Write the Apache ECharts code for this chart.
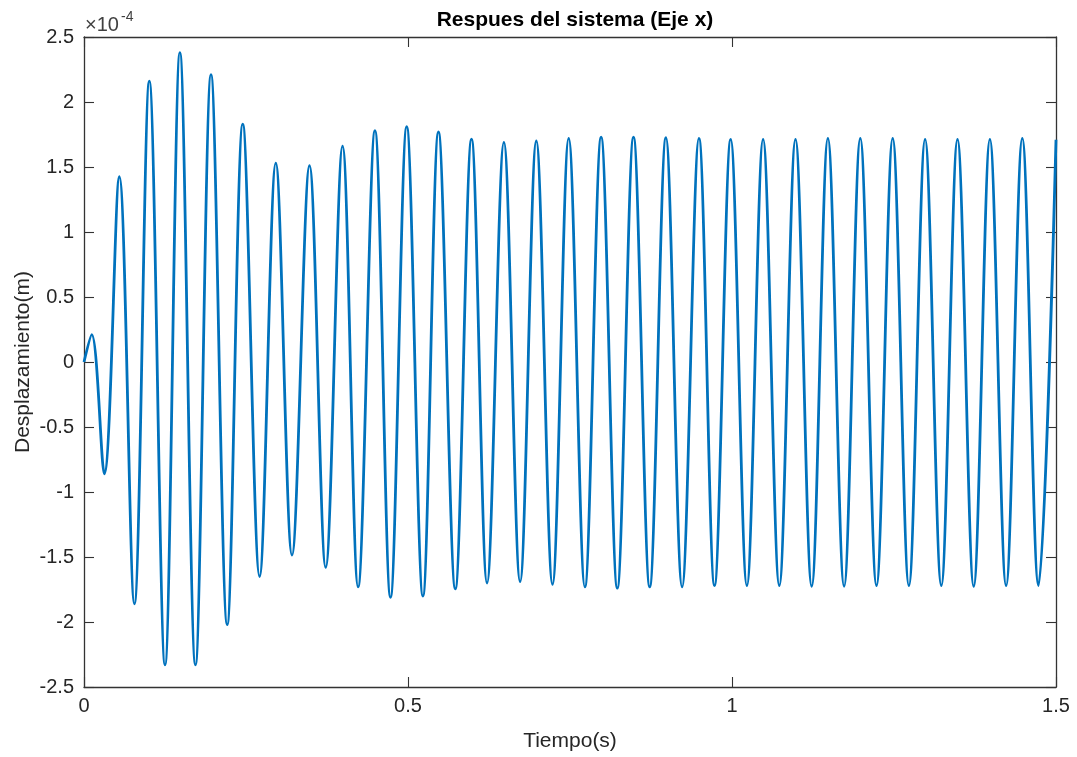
<!DOCTYPE html>
<html>
<head>
<meta charset="utf-8">
<script src="https://cdn.jsdelivr.net/npm/echarts@6/dist/echarts.min.js"></script>
<style>html,body{margin:0;padding:0;background:#fff}#c{width:1077px;height:757px}</style>
</head>
<body>
<div id="c"></div>
<script>
// Extrema of the response (time in s, displacement in 1e-4 m)
const timeS = [0, 0.0119, 0.0313, 0.0545, 0.0777, 0.1008, 0.125, 0.148, 0.172, 0.196, 0.221, 0.245, 0.271, 0.296, 0.321, 0.348, 0.373, 0.399, 0.423, 0.449, 0.473, 0.498, 0.523, 0.547, 0.573, 0.598, 0.622, 0.648, 0.673, 0.698, 0.723, 0.748, 0.773, 0.798, 0.823, 0.848, 0.873, 0.898, 0.923, 0.949, 0.973, 0.998, 1.023, 1.048, 1.073, 1.098, 1.123, 1.148, 1.173, 1.198, 1.223, 1.248, 1.273, 1.298, 1.323, 1.348, 1.373, 1.398, 1.423, 1.448, 1.473, 1.5];
const dispE4 = [0, 0.21, -0.86, 1.425, -1.86, 2.16, -2.33, 2.38, -2.33, 2.21, -2.02, 1.83, -1.65, 1.53, -1.485, 1.51, -1.58, 1.66, -1.73, 1.78, -1.81, 1.81, -1.80, 1.77, -1.745, 1.715, -1.70, 1.69, -1.69, 1.70, -1.71, 1.72, -1.73, 1.73, -1.74, 1.73, -1.73, 1.725, -1.73, 1.72, -1.72, 1.713, -1.72, 1.713, -1.72, 1.713, -1.725, 1.72, -1.725, 1.72, -1.72, 1.72, -1.72, 1.713, -1.72, 1.713, -1.725, 1.713, -1.72, 1.72, -1.72, 1.71];
const xTicks = [0, 0.5, 1, 1.5];
const yTicks = [-2.5, -2, -1.5, -1, -0.5, 0, 0.5, 1, 1.5, 2, 2.5];

const FONT = 'Liberation Sans, Arial, Helvetica, sans-serif';
const AX = '#333333';
const TXT = '#262626';

const chart = echarts.init(document.getElementById('c'), null, {renderer: 'canvas'});
function axisCommon() {
  return {
    axisLine: {show: true, onZero: false, lineStyle: {color: AX, width: 1.3}},
    axisTick: {show: true, inside: true, length: 10, lineStyle: {color: AX, width: 1.1}},
    splitLine: {show: false}
  };
}
chart.setOption({
  backgroundColor: '#fff',
  animation: false,
  title: {
    text: 'Respues del sistema (Eje x)',
    left: 570, top: 5, textAlign: 'center',
    textStyle: {fontFamily: FONT, fontSize: 21, fontWeight: 'bold', color: '#000'}
  },
  grid: {left: 84, right: 21, top: 37, bottom: 70, containLabel: false},
  graphic: [
    {type: 'text', left: 85, top: 15, style: {text: '×10', font: '20px ' + FONT, fill: '#404040'}},
    {type: 'text', left: 121, top: 10, style: {text: '-4', font: '14px ' + FONT, fill: '#404040'}}
  ],
  xAxis: [
    Object.assign({
      type: 'value', min: xTicks[0], max: xTicks[xTicks.length - 1], interval: 0.5,
      position: 'bottom',
      name: 'Tiempo(s)', nameLocation: 'middle', nameGap: 44, nameMoveOverlap: false,
      nameTextStyle: {fontFamily: FONT, fontSize: 21, color: TXT},
      axisLabel: {fontFamily: FONT, fontSize: 20, color: TXT, margin: 9}
    }, axisCommon()),
    Object.assign({
      type: 'value', min: xTicks[0], max: xTicks[xTicks.length - 1], interval: 0.5,
      position: 'top', axisLabel: {show: false}
    }, axisCommon())
  ],
  yAxis: [
    Object.assign({
      type: 'value', min: yTicks[0], max: yTicks[yTicks.length - 1], interval: 0.5,
      position: 'left',
      name: 'Desplazamiento(m)', nameLocation: 'middle', nameGap: 50, nameRotate: 90, nameMoveOverlap: false,
      nameTextStyle: {fontFamily: FONT, fontSize: 21, color: TXT},
      axisLabel: {fontFamily: FONT, fontSize: 20, color: TXT, margin: 10}
    }, axisCommon()),
    Object.assign({
      type: 'value', min: yTicks[0], max: yTicks[yTicks.length - 1], interval: 0.5,
      position: 'right', axisLabel: {show: false}
    }, axisCommon())
  ],
  series: [{
    type: 'line',
    xAxisIndex: 0, yAxisIndex: 0,
    data: timeS.map((t, i) => [t, dispE4[i]]),
    showSymbol: false,
    smooth: 0.35,
    lineStyle: {color: '#0072BD', width: 2.8},
    clip: true
  }]
});
</script>
</body>
</html>
